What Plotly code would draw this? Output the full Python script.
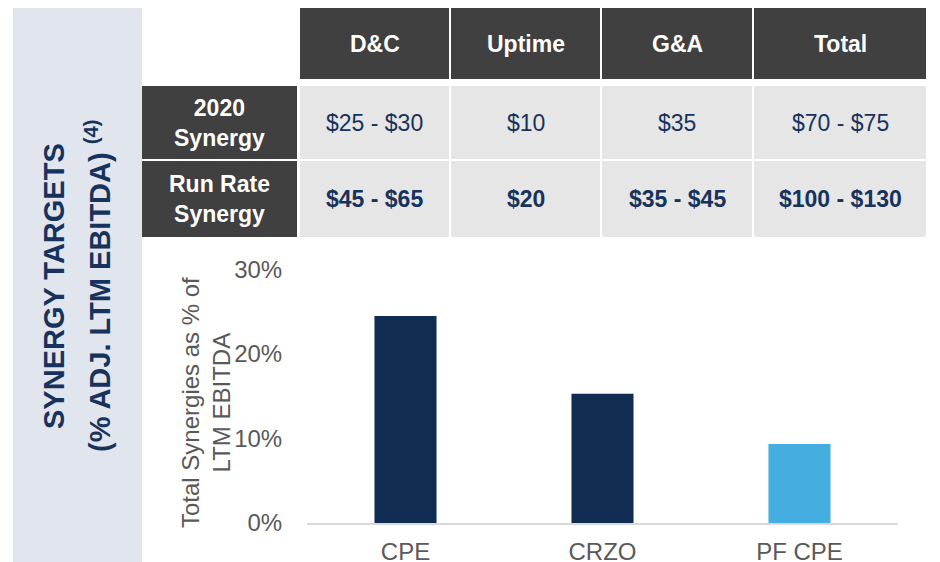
import plotly.graph_objects as go

# page body adds an 8px margin; the figure is sized to fill the 940x562 window
OFF = 8
W, H = 940 - OFF, 562 - OFF

# ---- data ----
columns = ["D&C", "Uptime", "G&A", "Total"]
row_labels = ["2020<br>Synergy", "Run Rate<br>Synergy"]
synergy_2020 = ["$25 - $30", "$10", "$35", "$70 - $75"]
synergy_run_rate = ["$45 - $65", "$20", "$35 - $45", "$100 - $130"]

categories = ["CPE", "CRZO", "PF CPE"]
values = [24.5, 15.3, 9.35]
bar_colors = ["#112C52", "#112C52", "#45AEE1"]

y_ticks = [0, 10, 20, 30]
y_tick_labels = ["0%", "10%", "20%", "30%"]

FONT = "Liberation Sans, Arial, sans-serif"
DARK = "#404040"
LIGHT = "#E6E6E6"
NAVY = "#17325C"
GRAY = "#595959"


def px(x):
    return (x - OFF) / W


def py(y):
    return 1 - (y - OFF) / H


# layout geometry (window pixels)
col_x = [(300, 449), (451, 600), (602, 752), (754, 926)]
label_x = (142, 297)
header_y = (6, 79)
row_y = [(86, 159), (161, 237)]

shapes = []
annotations = []

# left side panel
shapes.append(dict(type="rect", xref="paper", yref="paper",
                   x0=px(13), x1=px(142), y0=py(570), y1=py(8),
                   fillcolor="#E1E5ED", line=dict(width=0), layer="below"))
annotations.append(dict(text="<b>SYNERGY TARGETS</b>", textangle=-90,
                        x=px(54), y=py(286), xref="paper", yref="paper",
                        xanchor="center", yanchor="middle", showarrow=False,
                        font=dict(family=FONT, size=29, color=NAVY)))
annotations.append(dict(text="<b>(% ADJ. LTM EBITDA) <sup>(4)</sup></b>", textangle=-90,
                        x=px(98), y=py(286), xref="paper", yref="paper",
                        xanchor="center", yanchor="middle", showarrow=False,
                        font=dict(family=FONT, size=29, color=NAVY)))

# header row
for (x0, x1), name in zip(col_x, columns):
    shapes.append(dict(type="rect", xref="paper", yref="paper",
                       x0=px(x0), x1=px(x1), y0=py(header_y[1]), y1=py(header_y[0]),
                       fillcolor=DARK, line=dict(width=0), layer="below"))
    annotations.append(dict(text=f"<b>{name}</b>", x=px((x0 + x1) / 2),
                            y=py((header_y[0] + header_y[1]) / 2 + 1),
                            xref="paper", yref="paper", showarrow=False,
                            xanchor="center", yanchor="middle",
                            font=dict(family=FONT, size=23, color="white")))

# body rows
rows = [synergy_2020, synergy_run_rate]
for ri, ((y0, y1), label, vals) in enumerate(zip(row_y, row_labels, rows)):
    shapes.append(dict(type="rect", xref="paper", yref="paper",
                       x0=px(label_x[0]), x1=px(label_x[1]), y0=py(y1), y1=py(y0),
                       fillcolor=DARK, line=dict(width=0), layer="below"))
    annotations.append(dict(text=f"<b>{label}</b>", x=px((label_x[0] + label_x[1]) / 2),
                            y=py((y0 + y1) / 2), xref="paper", yref="paper",
                            showarrow=False, xanchor="center", yanchor="middle",
                            font=dict(family=FONT, size=23, color="white")))
    for (x0, x1), v in zip(col_x, vals):
        shapes.append(dict(type="rect", xref="paper", yref="paper",
                           x0=px(x0), x1=px(x1), y0=py(y1), y1=py(y0),
                           fillcolor=LIGHT, line=dict(width=0), layer="below"))
        txt = f"<b>{v}</b>" if ri == 1 else v
        annotations.append(dict(text=txt, x=px((x0 + x1) / 2), y=py((y0 + y1) / 2),
                                xref="paper", yref="paper", showarrow=False,
                                xanchor="center", yanchor="middle",
                                font=dict(family=FONT, size=23, color=NAVY)))

# y-axis title
annotations.append(dict(text="Total Synergies as % of<br>LTM EBITDA", textangle=-90,
                        x=px(206), y=py(403), xref="paper", yref="paper",
                        xanchor="center", yanchor="middle", showarrow=False,
                        font=dict(family=FONT, size=24, color=GRAY)))

fig = go.Figure(go.Bar(x=categories, y=values, marker=dict(color=bar_colors, line=dict(width=0)),
                       width=0.315, hoverinfo="x+y"))

fig.update_layout(
    template="none",
    width=W, height=H, margin=dict(l=0, r=0, t=0, b=0, pad=0, autoexpand=False),
    paper_bgcolor="white", plot_bgcolor="white", showlegend=False,
    shapes=shapes, annotations=annotations,
    font=dict(family=FONT, color=GRAY),
    xaxis=dict(domain=[px(307), px(898)], range=[-0.5, 2.5], showgrid=False, automargin=False,
               showline=True, linecolor="#D9D9D9", linewidth=1.5, zeroline=False,
               ticks="outside", ticklen=6, tickcolor="rgba(0,0,0,0)",
               tickfont=dict(family=FONT, size=24, color=GRAY)),
    yaxis=dict(domain=[py(523), py(269.5)], range=[0, 30], showgrid=False, automargin=False,
               showline=False, zeroline=False, tickvals=y_ticks, ticktext=y_tick_labels,
               ticks="outside", ticklen=19, tickcolor="rgba(0,0,0,0)",
               tickfont=dict(family=FONT, size=24, color=GRAY)),
)

fig.write_html("out.html")
